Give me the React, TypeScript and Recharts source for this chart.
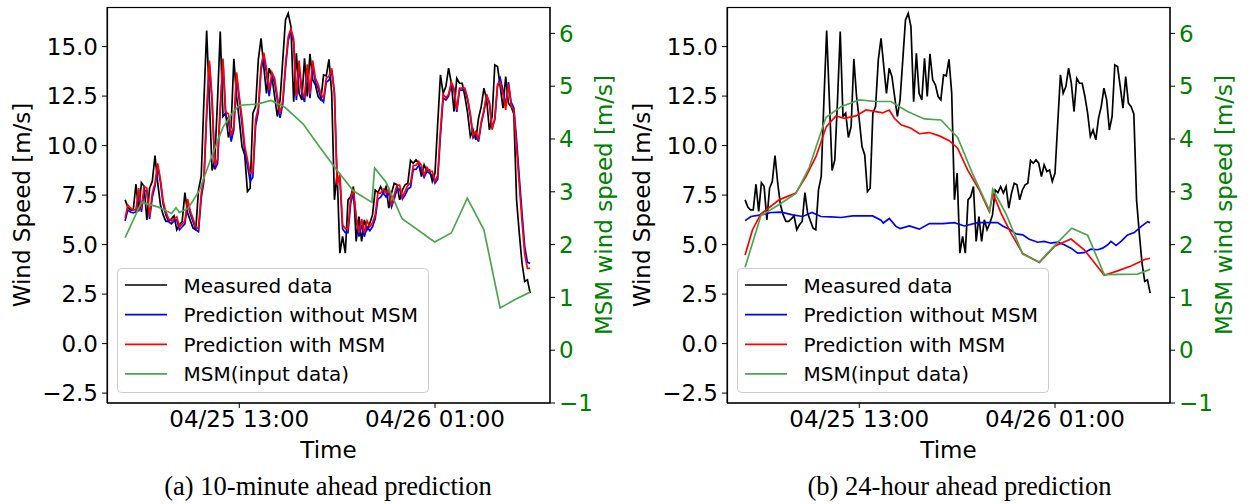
import React from 'react';
import { LineChart, Line, XAxis, YAxis } from 'recharts';

// time axis in hours from 04/25 00:00
const startHour = 6; // first sample 04/25 06:00, 10-minute steps
const timeDomain = [4.89, 32.05];
const timeTicks = [13, 25];
const timeTickLabels = ['04/25 13:00', '04/26 01:00'];
const speedTicks = [-2.5, 0, 2.5, 5, 7.5, 10, 12.5, 15];
const msmTicks = [-1, 0, 1, 2, 3, 4, 5, 6];

const seriesNames = ['Measured data', 'Prediction without MSM', 'Prediction with MSM', 'MSM(input data)'];
const seriesColors = ['#000000', '#0000ff', '#ff0000', '#4ca64c'];

// measured wind speed, 10-minute samples (same in both panels)
const measured = [
  7.26, 6.9, 6.75, 6.75, 8.05, 6.67, 8.13, 7.93, 6.25, 7.85,
  8.19, 9.5, 8.1, 7.01, 6.5, 6.17, 6.17, 6.3, 6.45, 5.75,
  6.0, 6.17, 7.63, 6.59, 6.2, 5.83, 5.75, 7.76, 8.44, 12.31,
  15.81, 12.31, 8.74, 9.28, 12.31, 15.76, 11.47, 11.64, 10.41, 10.96,
  14.38, 12.48, 11.3, 9.95, 9.53, 7.68, 7.85, 11.64, 11.97, 14.33,
  15.42, 14.01, 12.64, 13.91, 13.49, 12.48, 11.47, 12.31, 14.33, 16.35,
  16.68, 16.01, 12.22, 14.66, 12.64, 12.31, 14.41, 12.48, 14.63, 13.32,
  13.07, 12.48, 12.31, 13.57, 13.52, 14.36, 12.64, 7.26, 8.61, 4.57,
  5.41, 4.57, 7.26, 7.43, 7.93, 5.16, 6.42, 5.16, 6.25, 5.75,
  6.08, 6.5, 7.76, 7.63, 7.93, 7.6, 7.93, 6.84, 7.6, 8.1,
  8.02, 7.26, 7.76, 8.02, 8.1, 9.25, 9.11, 9.28, 9.11, 8.44,
  9.03, 8.69, 8.77, 8.19, 8.61, 11.13, 13.57, 12.64, 12.98, 13.91,
  13.15, 11.72, 13.4, 13.15, 13.15, 12.48, 11.64, 10.46, 10.79, 10.29,
  11.38, 11.97, 12.9, 12.31, 10.79, 11.47, 14.07, 13.99, 12.98, 11.89,
  13.49, 12.14, 11.97, 11.6, 7.26, 5.58, 4.07, 3.14, 3.22, 2.55,
];

// (a) 10-minute ahead
const predNoMsmA = [
  6.2, 6.75, 6.65, 6.6, 6.65, 7.6, 6.65, 7.75, 7.7, 6.3,
  7.4, 7.95, 8.95, 8.15, 7.05, 6.5, 6.15, 6.05, 6.2, 6.25,
  5.75, 5.9, 6.05, 7.1, 6.55, 6.15, 5.75, 5.65, 7.35, 8.2,
  11.5, 14.1, 12.2, 8.8, 9.1, 11.8, 14.2, 11.5, 11.3, 10.2,
  10.8, 13.5, 12.3, 11.1, 9.7, 9.0, 8.2, 8.4, 11.0, 11.7,
  13.8, 14.5, 13.7, 12.5, 13.5, 13.2, 12.3, 11.4, 12.1, 13.9,
  15.3, 15.8, 15.2, 12.3, 14.0, 12.6, 12.2, 13.9, 12.4, 14.0,
  13.2, 12.9, 12.4, 12.2, 13.2, 13.3, 13.8, 12.7, 8.2, 8.3,
  5.8, 5.6, 5.6, 7.1, 7.6, 6.3, 5.4, 6.0, 5.4, 5.9,
  5.7, 5.9, 6.3, 7.3, 7.4, 7.6, 7.4, 7.6, 6.9, 7.3,
  7.8, 7.8, 7.3, 7.5, 7.8, 7.9, 8.8, 8.8, 9.0, 8.8,
  8.4, 8.7, 8.6, 8.5, 8.1, 8.3, 10.5, 12.4, 12.3, 12.5,
  13.1, 12.8, 11.7, 12.8, 12.8, 12.8, 12.3, 11.5, 10.4, 10.6,
  10.2, 11.1, 11.7, 12.5, 12.2, 10.9, 11.3, 13.0, 13.4, 12.8,
  12.0, 13.2, 12.2, 11.9, 10.3, 8.4, 6.6, 4.9, 4.1, 4.05,
];
const predMsmA = [
  6.35, 7.0, 6.85, 6.75, 6.75, 7.85, 6.8, 7.95, 7.85, 6.4,
  7.6, 8.1, 9.1, 8.3, 7.2, 6.65, 6.3, 6.2, 6.3, 6.4,
  5.9, 6.05, 6.2, 7.3, 6.7, 6.3, 5.9, 5.8, 7.6, 8.4,
  11.8, 14.3, 12.4, 9.0, 9.3, 12.0, 14.4, 11.7, 11.6, 10.5,
  11.0, 13.7, 12.5, 11.4, 10.0, 9.3, 8.6, 8.7, 11.3, 11.9,
  14.0, 14.7, 13.9, 12.8, 13.7, 13.4, 12.5, 11.6, 12.3, 14.1,
  15.5, 15.9, 15.4, 12.5, 14.3, 12.8, 12.4, 14.1, 12.6, 14.3,
  13.4, 13.1, 12.6, 12.4, 13.4, 13.5, 13.9, 12.6, 8.0, 8.6,
  6.0, 5.8, 5.8, 7.4, 7.8, 6.4, 5.6, 6.3, 5.6, 6.2,
  5.9, 6.1, 6.5, 7.6, 7.6, 7.8, 7.6, 7.8, 7.0, 7.5,
  8.0, 8.0, 7.4, 7.7, 8.0, 8.1, 9.0, 9.0, 9.2, 9.0,
  8.5, 8.9, 8.7, 8.7, 8.2, 8.5, 10.8, 12.6, 12.4, 12.6,
  13.2, 12.9, 11.8, 12.9, 12.9, 12.9, 12.4, 11.6, 10.5, 10.7,
  10.3, 11.2, 11.8, 12.6, 12.1, 10.8, 11.4, 13.1, 13.2, 12.6,
  11.8, 13.1, 12.0, 11.8, 9.9, 8.0, 6.2, 4.5, 3.8, 3.8,
];
const msmTimeA = [
  6.0, 7.0, 8.05, 8.85, 9.12, 9.32, 9.85, 10.55, 11.37, 12.0,
  12.6, 13.0, 14.12, 14.94, 15.8, 16.93, 17.95, 18.93, 19.99, 21.13,
  21.3, 22.0, 22.98, 24.98, 26.0, 26.98, 28.0, 28.99, 29.97, 30.83,
];
const msmA = [
  2.13, 2.8, 2.71, 2.59, 2.7, 2.61, 2.68, 3.02, 3.72, 4.22,
  4.5, 4.64, 4.66, 4.73, 4.6, 4.28, 3.84, 3.43, 3.02, 2.8,
  3.45, 3.18, 2.49, 2.05, 2.22, 2.88, 2.28, 0.8, 0.97, 1.1,
];

// (b) 24-hour ahead
const predNoMsmTimeB = [
  6.0, 6.36, 6.97, 7.58, 8.2, 8.91, 9.53, 10.1, 10.65, 11.26,
  11.88, 12.59, 13.21, 13.82, 14.33, 14.47, 14.84, 15.25, 15.5, 16.07,
  16.68, 17.3, 18.11, 18.83, 19.44, 20.26, 20.87, 21.48, 21.79, 22.2,
  22.61, 23.02, 23.42, 23.94, 24.34, 24.75, 25.16, 25.57, 25.98, 26.39,
  26.79, 27.2, 27.61, 27.92, 28.23, 28.43, 28.74, 29.05, 29.45, 29.86,
  30.27, 30.68, 30.83,
];
const predNoMsmB = [
  6.21, 6.42, 6.5, 6.62, 6.64, 6.5, 6.42, 6.62, 6.42, 6.4,
  6.37, 6.45, 6.45, 6.45, 6.23, 6.09, 6.32, 5.92, 5.81, 5.94,
  5.78, 6.06, 6.06, 6.11, 5.94, 6.11, 6.11, 6.11, 5.94, 5.78,
  5.54, 5.49, 5.27, 5.12, 5.16, 5.07, 5.12, 4.99, 4.82, 4.57,
  4.59, 4.77, 4.74, 4.82, 4.99, 5.16, 4.96, 5.16, 5.49, 5.61,
  5.91, 6.16, 6.11,
];
const predMsmTimeB = [
  6.0, 6.45, 6.97, 8.09, 9.1, 9.73, 10.35, 10.98, 11.57, 12.1,
  12.8, 13.41, 14.02, 14.43, 14.84, 15.15, 15.56, 16.17, 16.68, 17.29,
  17.91, 18.52, 19.03, 19.64, 20.36, 20.97, 21.2, 21.69, 22.3, 23.02,
  24.04, 25.0, 25.98, 26.79, 28.02, 28.8, 29.66, 30.5, 30.83,
];
const predMsmB = [
  4.48, 5.74, 6.55, 7.26, 7.6, 8.44, 9.45, 10.96, 11.5, 11.38,
  11.5, 11.8, 11.72, 11.65, 11.8, 11.38, 11.05, 10.88, 10.6, 10.66,
  10.49, 10.25, 9.87, 8.77, 7.76, 6.67, 7.58, 6.59, 5.58, 4.55,
  4.1, 4.93, 5.28, 4.74, 3.45, 3.66, 3.92, 4.25, 4.31,
];
const msmTimeB = [
  6.0, 6.97, 8.09, 9.12, 9.93, 10.96, 11.88, 13.0, 14.02, 14.94,
  15.96, 16.99, 18.01, 19.03, 19.95, 21.0, 21.18, 22.0, 23.02, 24.04,
  25.06, 26.02, 27.0, 28.02, 30.06, 30.83,
];
const msmB = [
  1.57, 2.55, 2.76, 2.97, 3.46, 4.41, 4.61, 4.74, 4.71, 4.71,
  4.52, 4.38, 4.36, 4.03, 3.34, 2.64, 3.05, 2.58, 1.82, 1.67,
  2.01, 2.31, 2.18, 1.43, 1.44, 1.53,
];

const tenMinute = (vals: number[]) => vals.map((v, i) => ({ t: startHour + i / 6, v }));
const pairs = (ts: number[], vs: number[]) => ts.map((t, i) => ({ t, v: vs[i] }));
const minus = (s: string) => s.replace('-', '\u2212');

const FONT = 'DejaVu Sans';
const GREEN_LABEL = '#008000';
const LINE_W = 1.7;

interface PanelProps {
  left: number;
  caption: string;
  captionX: number;
  noMsm: { t: number; v: number }[];
  withMsm: { t: number; v: number }[];
  msm: { t: number; v: number }[];
}

const Panel: React.FC<PanelProps> = ({ left, caption, captionX, noMsm, withMsm, msm }) => {
  const measuredData = tenMinute(measured);
  return (
    <div style={{ position: 'absolute', left, top: 0, width: 620, height: 504, fontFamily: FONT }}>
      <LineChart width={620} height={504} margin={{ top: 7, right: 0, bottom: 0, left: 0 }}>
        <XAxis
          dataKey="t"
          type="number"
          domain={timeDomain}
          allowDataOverflow
          ticks={timeTicks}
          tickFormatter={(t) => timeTickLabels[timeTicks.indexOf(t)]}
          height={101}
          stroke="#000"
          tickSize={5}
          tickMargin={3}
          tick={{ fill: '#000', fontSize: 23 }}
        />
        <YAxis
          yAxisId="left"
          type="number"
          domain={[-3, 17]}
          allowDataOverflow
          ticks={speedTicks}
          tickFormatter={(v) => minus(v.toFixed(1))}
          width={107}
          stroke="#000"
          tickSize={5}
          tickMargin={4}
          tick={{ fill: '#000', fontSize: 23 }}
        />
        <YAxis
          yAxisId="right"
          orientation="right"
          type="number"
          domain={[-1, 6.5]}
          allowDataOverflow
          ticks={msmTicks}
          tickFormatter={(v) => minus(String(v))}
          width={70}
          stroke="#000"
          tickSize={5}
          tickMargin={4}
          tick={{ fill: GREEN_LABEL, fontSize: 23 }}
        />
        <Line yAxisId="left" data={measuredData} dataKey="v" type="linear" stroke={seriesColors[0]} strokeWidth={LINE_W} dot={false} isAnimationActive={false} />
        <Line yAxisId="left" data={noMsm} dataKey="v" type="linear" stroke={seriesColors[1]} strokeWidth={LINE_W} dot={false} isAnimationActive={false} />
        <Line yAxisId="left" data={withMsm} dataKey="v" type="linear" stroke={seriesColors[2]} strokeWidth={LINE_W} dot={false} isAnimationActive={false} />
        <Line yAxisId="right" data={msm} dataKey="v" type="linear" stroke={seriesColors[3]} strokeWidth={LINE_W} dot={false} isAnimationActive={false} />
      </LineChart>
      <svg width={620} height={504} style={{ position: 'absolute', left: 0, top: 0, pointerEvents: 'none' }}>
        {/* axes frame (matplotlib draws all four spines) */}
        <rect x={107.5} y={7.5} width={442.5} height={395.5} fill="none" stroke="#000" strokeWidth={1.2} />
        <text x={30} y={205} transform="rotate(-90 30 205)" textAnchor="middle" fontSize={23} fill="#000">Wind Speed [m/s]</text>
        <text x={612} y={205} transform="rotate(-90 612 205)" textAnchor="middle" fontSize={23} fill={GREEN_LABEL}>MSM wind speed [m/s]</text>
        <text x={328.5} y={458} textAnchor="middle" fontSize={23} fill="#000">Time</text>
        <rect x={117.5} y={268.5} width={311} height={124} rx={4} fill="#fff" fillOpacity={0.8} stroke="#cccccc" />
        {seriesNames.map((name, i) => (
          <g key={name}>
            <line x1={125} x2={167} y1={285 + i * 29.65} y2={285 + i * 29.65} stroke={seriesColors[i]} strokeWidth={LINE_W} />
            <text x={183.5} y={292.5 + i * 29.65} fontSize={20} fill="#000">{name}</text>
          </g>
        ))}
        <text x={captionX} y={495} textAnchor="middle" fontSize={26.5} fontFamily="Liberation Serif" fill="#000">{caption}</text>
      </svg>
    </div>
  );
};

export default function App() {
  return (
    <div style={{ position: 'absolute', left: 0, top: 0, width: 1249, height: 504, background: '#fff' }}>
      <Panel
        left={0}
        caption="(a) 10-minute ahead prediction"
        captionX={328}
        noMsm={tenMinute(predNoMsmA)}
        withMsm={tenMinute(predMsmA)}
        msm={pairs(msmTimeA, msmA)}
      />
      <Panel
        left={620}
        caption="(b) 24-hour ahead prediction"
        captionX={339.5}
        noMsm={pairs(predNoMsmTimeB, predNoMsmB)}
        withMsm={pairs(predMsmTimeB, predMsmB)}
        msm={pairs(msmTimeB, msmB)}
      />
    </div>
  );
}
